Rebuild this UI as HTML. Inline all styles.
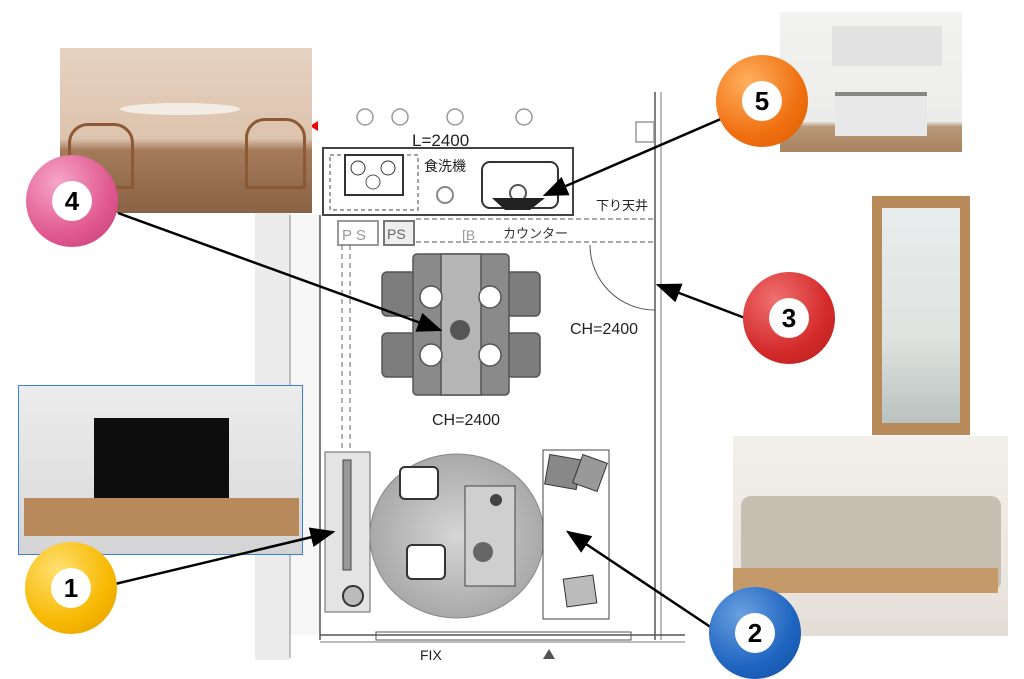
<!DOCTYPE html><html><head><meta charset="utf-8"><style>
body{margin:0;width:1024px;height:678px;background:#fff;position:relative;overflow:hidden;font-family:"Liberation Sans","Noto Sans CJK JP",sans-serif}
.a{position:absolute}
</style></head><body>
<svg class="a" style="left:0;top:0" width="1024" height="678" viewBox="0 0 1024 678">
<defs>
<radialGradient id="rug" cx="50%" cy="50%" r="50%"><stop offset="0" stop-color="#d6d6d6"/><stop offset="1" stop-color="#a9a9a9"/></radialGradient>
</defs>
<rect x="255" y="207" width="35" height="453" fill="#ececec"/>
<rect x="290" y="215" width="30" height="420" fill="#f6f6f6"/>
<line x1="320" y1="215" x2="320" y2="640" stroke="#555" stroke-width="1.5"/>
<line x1="290" y1="215" x2="290" y2="658" stroke="#888"/>
<line x1="655" y1="92" x2="655" y2="640" stroke="#555" stroke-width="1.5"/>
<line x1="661" y1="92" x2="661" y2="640" stroke="#777"/>
<line x1="320" y1="635" x2="685" y2="635" stroke="#555" stroke-width="1.5"/>
<line x1="320" y1="642" x2="685" y2="642" stroke="#777"/>
<rect x="376" y="632" width="255" height="8" fill="none" stroke="#555"/>
<g fill="none" stroke="#999" stroke-width="1.5">
<circle cx="365" cy="117" r="8"/><circle cx="400" cy="117" r="8"/><circle cx="455" cy="117" r="8"/><circle cx="524" cy="117" r="8"/>
<rect x="636" y="122" width="18" height="20"/>
</g>
<text x="412" y="146" font-size="17" fill="#222">L=2400</text>
<rect x="323" y="148" width="250" height="67" fill="none" stroke="#444" stroke-width="2"/>
<rect x="330" y="155" width="88" height="55" fill="none" stroke="#444" stroke-dasharray="4,3"/>
<rect x="345" y="155" width="58" height="40" fill="#fff" stroke="#333" stroke-width="2"/>
<circle cx="358" cy="168" r="7" fill="none" stroke="#333"/><circle cx="388" cy="168" r="7" fill="none" stroke="#333"/><circle cx="373" cy="182" r="7" fill="none" stroke="#555"/>
<text x="424" y="171" font-size="14" fill="#222">食洗機</text>
<circle cx="445" cy="195" r="8" fill="none" stroke="#888" stroke-width="2"/>
<rect x="482" y="162" width="76" height="46" rx="8" fill="none" stroke="#333" stroke-width="2"/>
<circle cx="518" cy="193" r="8" fill="none" stroke="#555" stroke-width="2"/>
<path d="M492,198 L545,198 L530,210 L505,210z" fill="#222"/>
<text x="596" y="210" font-size="13" fill="#222">下り天井</text>
<line x1="416" y1="219" x2="655" y2="219" stroke="#555" stroke-dasharray="5,3"/>
<line x1="416" y1="242" x2="655" y2="242" stroke="#555" stroke-dasharray="5,3"/>
<rect x="338" y="221" width="40" height="24" fill="none" stroke="#999" stroke-width="2"/>
<rect x="384" y="221" width="30" height="24" fill="#eee" stroke="#777" stroke-width="2"/>
<text x="342" y="240" font-size="15" fill="#999">P S</text><text x="387" y="239" font-size="14" fill="#666">PS</text>
<text x="462" y="240" font-size="14" fill="#999">[B</text>
<text x="503" y="238" font-size="13" fill="#333">カウンター</text>
<line x1="342" y1="245" x2="342" y2="452" stroke="#666" stroke-dasharray="5,4"/>
<line x1="350" y1="245" x2="350" y2="452" stroke="#666" stroke-dasharray="5,4"/>
<path d="M590,245 A65,65 0 0 0 655,310" fill="none" stroke="#555"/>
<g stroke="#555" stroke-width="1.5">
<rect x="382" y="272" width="34" height="44" rx="5" fill="#7d7d7d"/>
<rect x="382" y="333" width="34" height="44" rx="5" fill="#7d7d7d"/>
<rect x="506" y="272" width="34" height="44" rx="5" fill="#7d7d7d"/>
<rect x="506" y="333" width="34" height="44" rx="5" fill="#7d7d7d"/>
<rect x="413" y="254" width="96" height="141" rx="4" fill="#8a8a8a"/>
<rect x="441" y="254" width="40" height="141" fill="#b5b5b5"/>
<g fill="#fff"><circle cx="431" cy="297" r="11"/><circle cx="490" cy="297" r="11"/><circle cx="431" cy="355" r="11"/><circle cx="490" cy="355" r="11"/></g>
</g>
<circle cx="460" cy="330" r="10" fill="#555"/>
<text x="570" y="334" font-size="16" fill="#222">CH=2400</text>
<text x="432" y="425" font-size="16" fill="#222">CH=2400</text>
<rect x="325" y="452" width="45" height="160" fill="#e4e4e4" stroke="#666"/>
<rect x="343" y="460" width="8" height="110" fill="#999" stroke="#444"/>
<circle cx="353" cy="596" r="10" fill="#bbb" stroke="#333" stroke-width="2"/>
<ellipse cx="457" cy="536" rx="87" ry="82" fill="url(#rug)" stroke="#888"/>
<rect x="400" y="467" width="38" height="32" rx="5" fill="#fff" stroke="#333" stroke-width="2"/>
<rect x="407" y="545" width="38" height="34" rx="5" fill="#fff" stroke="#333" stroke-width="2"/>
<rect x="465" y="486" width="50" height="100" fill="#cfcfcf" stroke="#444"/>
<circle cx="483" cy="552" r="10" fill="#666"/><circle cx="496" cy="500" r="6" fill="#444"/>
<rect x="543" y="450" width="66" height="169" fill="#fff" stroke="#444"/>
<rect x="547" y="457" width="32" height="30" fill="#888" stroke="#333" transform="rotate(10 563 472)"/>
<rect x="577" y="458" width="26" height="30" fill="#999" stroke="#333" transform="rotate(20 590 473)"/>
<rect x="565" y="577" width="30" height="28" fill="#bbb" stroke="#333" transform="rotate(-8 580 591)"/>
<text x="420" y="660" font-size="14" fill="#222">FIX</text>
<path d="M543,659 L549,649 L555,659z" fill="#555"/>
<path d="M310,126 L318,131 L318,121z" fill="#e00"/>
</svg>
<div class="a" style="left:60px;top:48px;width:252px;height:165px;background:linear-gradient(#e6d3c2 0,#dcc3ad 55%,#a47a5a 62%,#8a6345 100%)">
<div class="a" style="left:60px;top:55px;width:120px;height:12px;border-radius:50%;background:#f3ece4"></div>
<div class="a" style="left:8px;top:75px;width:60px;height:60px;border:3px solid #8b5a35;border-radius:20px 20px 0 0"></div>
<div class="a" style="left:185px;top:70px;width:55px;height:65px;border:3px solid #8b5a35;border-radius:20px 20px 0 0"></div></div>
<div class="a" style="left:780px;top:12px;width:182px;height:140px;background:linear-gradient(#f2f2f0 0,#ececea 78%,#b89878 82%,#a8845f 100%)">
<div class="a" style="left:52px;top:14px;width:110px;height:40px;background:#e2e2e2"></div>
<div class="a" style="left:55px;top:80px;width:92px;height:40px;background:#e8e8e8;border-top:4px solid #888"></div></div>
<div class="a" style="left:872px;top:196px;width:98px;height:239px;background:#b88a5a"><div class="a" style="left:10px;top:12px;width:78px;height:215px;background:linear-gradient(#e8ecec 0,#dfe3e0 60%,#b9c2c0 100%)"></div></div>
<div class="a" style="left:733px;top:436px;width:275px;height:200px;background:linear-gradient(#f2efea 0,#ebe6df 70%,#e2ddd5 100%)">
<div class="a" style="left:8px;top:60px;width:260px;height:95px;background:#c7bfb2;border-radius:10px"></div>
<div class="a" style="left:0px;top:132px;width:265px;height:25px;background:#c59a6a"></div></div>
<div class="a" style="left:18px;top:385px;width:285px;height:170px;background:linear-gradient(#ececec 0,#e0e0e0 60%,#d4d4d4 100%);border:1px solid #3b7fe0;box-sizing:border-box">
<div class="a" style="left:75px;top:32px;width:135px;height:80px;background:#0d0d0d"></div>
<div class="a" style="left:5px;top:112px;width:275px;height:38px;background:#b8895a"></div></div>
<svg class="a" style="left:0;top:0" width="1024" height="678" viewBox="0 0 1024 678">
<defs><marker id="ah" markerWidth="10" markerHeight="10" refX="9" refY="5" orient="auto"><path d="M0,1 L10,5 L0,9 z" fill="#000"/></marker></defs>
<g stroke="#000" stroke-width="2.5" marker-end="url(#ah)">
<line x1="118" y1="213" x2="440" y2="330"/>
<line x1="730" y1="115" x2="545" y2="195"/>
<line x1="745" y1="318" x2="658" y2="285"/>
<line x1="115" y1="584" x2="333" y2="532"/>
<line x1="712" y1="628" x2="568" y2="532"/>
</g></svg>
<div class="a" style="left:26px;top:155px;width:92px;height:92px;border-radius:50%;background:radial-gradient(circle at 35% 30%,#f6a6c8,#e0588f 60%,#c43c76)"></div>
<div class="a" style="left:716px;top:55px;width:92px;height:92px;border-radius:50%;background:radial-gradient(circle at 35% 30%,#ffb060,#f07010 60%,#d85a00)"></div>
<div class="a" style="left:743px;top:272px;width:92px;height:92px;border-radius:50%;background:radial-gradient(circle at 35% 30%,#f07070,#d42a2a 60%,#b51d1d)"></div>
<div class="a" style="left:25px;top:542px;width:92px;height:92px;border-radius:50%;background:radial-gradient(circle at 35% 30%,#ffe070,#f7b800 60%,#e09a00)"></div>
<div class="a" style="left:709px;top:587px;width:92px;height:92px;border-radius:50%;background:radial-gradient(circle at 35% 30%,#6aa0e0,#1e64c0 60%,#144f9c)"></div>
<div class="a" style="left:52px;top:181px;width:40px;height:40px;border-radius:50%;background:#fff;text-align:center;font:bold 26px/40px 'Liberation Sans',sans-serif">4</div>
<div class="a" style="left:742px;top:81px;width:40px;height:40px;border-radius:50%;background:#fff;text-align:center;font:bold 26px/40px 'Liberation Sans',sans-serif">5</div>
<div class="a" style="left:769px;top:298px;width:40px;height:40px;border-radius:50%;background:#fff;text-align:center;font:bold 26px/40px 'Liberation Sans',sans-serif">3</div>
<div class="a" style="left:51px;top:568px;width:40px;height:40px;border-radius:50%;background:#fff;text-align:center;font:bold 26px/40px 'Liberation Sans',sans-serif">1</div>
<div class="a" style="left:735px;top:613px;width:40px;height:40px;border-radius:50%;background:#fff;text-align:center;font:bold 26px/40px 'Liberation Sans',sans-serif">2</div>
</body></html>
